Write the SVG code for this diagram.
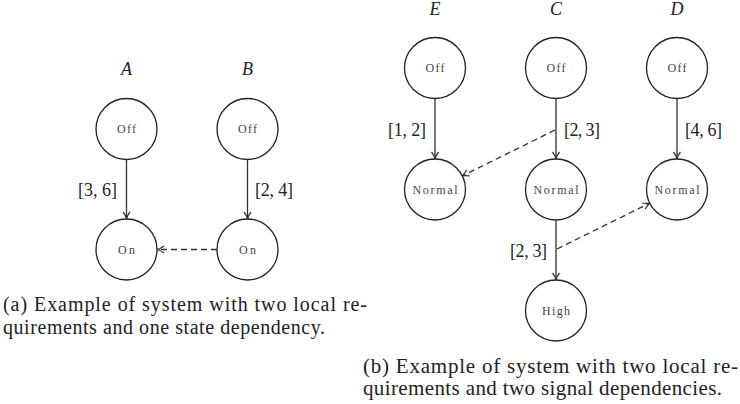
<svg xmlns="http://www.w3.org/2000/svg" width="740" height="404" viewBox="0 0 740 404">
<style>
.st{fill:#fff;stroke:#222;stroke-width:1.3}
.sl{font-family:'Liberation Serif','DejaVu Serif',serif;font-size:12px;fill:#444;text-anchor:middle}
.e{stroke:#333;stroke-width:1.3;fill:none}
.d{stroke:#333;stroke-width:1.3;fill:none;stroke-dasharray:6,4}
.lb{font-family:'Liberation Serif','DejaVu Serif',serif;font-size:18px;fill:#222}
.nm{font-family:'Liberation Serif','DejaVu Serif',serif;font-size:18px;font-style:italic;fill:#222;text-anchor:middle}
.cap{font-family:'Liberation Serif','DejaVu Serif',serif;font-size:20px;fill:#222}
.capb{font-family:'Liberation Serif','DejaVu Serif',serif;font-size:21px;fill:#222}
</style>
<defs>
<marker id="ah" viewBox="0 0 10 10" refX="9" refY="5" markerWidth="10" markerHeight="10" markerUnits="userSpaceOnUse" orient="auto">
<path d="M2,1.5 Q5,4 9,5 Q5,6 2,8.5" fill="none" stroke="#333" stroke-width="1.2"/>
</marker>
</defs>
<g id="titles">
<text class="nm" x="126.5" y="75">A</text>
<text class="nm" x="247.5" y="75">B</text>
<text class="nm" x="435" y="15">E</text>
<text class="nm" x="556" y="15">C</text>
<text class="nm" x="677" y="15">D</text>
</g>
<g id="connectors">
<line class="e" x1="126.5" y1="159.5" x2="126.5" y2="219" marker-end="url(#ah)"/>
<line class="e" x1="247.5" y1="159.5" x2="247.5" y2="219" marker-end="url(#ah)"/>
<line class="d" x1="217" y1="249.5" x2="157" y2="249.5" marker-end="url(#ah)"/>
<line class="e" x1="435" y1="98.5" x2="435" y2="159" marker-end="url(#ah)"/>
<line class="e" x1="556" y1="98.5" x2="556" y2="159" marker-end="url(#ah)"/>
<line class="e" x1="677" y1="98.5" x2="677" y2="159" marker-end="url(#ah)"/>
<line class="e" x1="556" y1="220.5" x2="556" y2="280" marker-end="url(#ah)"/>
<line class="d" x1="555" y1="130" x2="462" y2="176" marker-end="url(#ah)"/>
<line class="d" x1="557" y1="249" x2="650" y2="203" marker-end="url(#ah)"/>
<text class="lb" x="78" y="196" textLength="39" lengthAdjust="spacing">[3, 6]</text>
<text class="lb" x="255" y="196" textLength="38" lengthAdjust="spacing">[2, 4]</text>
<text class="lb" x="388" y="136" textLength="38" lengthAdjust="spacing">[1, 2]</text>
<text class="lb" x="564" y="136" textLength="36" lengthAdjust="spacing">[2, 3]</text>
<text class="lb" x="685" y="136" textLength="37" lengthAdjust="spacing">[4, 6]</text>
<text class="lb" x="510" y="257" textLength="37" lengthAdjust="spacing">[2, 3]</text>
</g>
<g id="A-off"><circle class="st" cx="126.5" cy="129" r="30.5"/><text class="sl" x="126.5" y="133" textLength="19" lengthAdjust="spacing">Off</text></g>
<g id="A-on"><circle class="st" cx="126.5" cy="249.5" r="30.5"/><text class="sl" x="126.5" y="253.5" textLength="17" lengthAdjust="spacing">On</text></g>
<g id="B-off"><circle class="st" cx="247.5" cy="129" r="30.5"/><text class="sl" x="247.5" y="133" textLength="19" lengthAdjust="spacing">Off</text></g>
<g id="B-on"><circle class="st" cx="247.5" cy="249.5" r="30.5"/><text class="sl" x="247.5" y="253.5" textLength="17" lengthAdjust="spacing">On</text></g>
<g id="E-off"><circle class="st" cx="435" cy="68" r="30.5"/><text class="sl" x="435" y="72" textLength="19" lengthAdjust="spacing">Off</text></g>
<g id="E-normal"><circle class="st" cx="435" cy="189.5" r="30.5"/><text class="sl" x="435" y="193.5" textLength="45" lengthAdjust="spacing">Normal</text></g>
<g id="C-off"><circle class="st" cx="556" cy="68" r="30.5"/><text class="sl" x="556" y="72" textLength="19" lengthAdjust="spacing">Off</text></g>
<g id="C-normal"><circle class="st" cx="556" cy="189.5" r="30.5"/><text class="sl" x="556" y="193.5" textLength="45" lengthAdjust="spacing">Normal</text></g>
<g id="C-high"><circle class="st" cx="556" cy="310.5" r="30.5"/><text class="sl" x="556" y="314.5" textLength="28" lengthAdjust="spacing">High</text></g>
<g id="D-off"><circle class="st" cx="677" cy="68" r="30.5"/><text class="sl" x="677" y="72" textLength="19" lengthAdjust="spacing">Off</text></g>
<g id="D-normal"><circle class="st" cx="677" cy="189.5" r="30.5"/><text class="sl" x="677" y="193.5" textLength="45" lengthAdjust="spacing">Normal</text></g>
<g id="captions">
<text class="cap" x="3" y="311" textLength="364" lengthAdjust="spacing">(a) Example of system with two local re-</text>
<text class="cap" x="3" y="334" textLength="322" lengthAdjust="spacing">quirements and one state dependency.</text>
<text class="capb" x="363" y="373" textLength="375" lengthAdjust="spacing">(b) Example of system with two local re-</text>
<text class="capb" x="363" y="395" textLength="359" lengthAdjust="spacing">quirements and two signal dependencies.</text>
</g>
</svg>
